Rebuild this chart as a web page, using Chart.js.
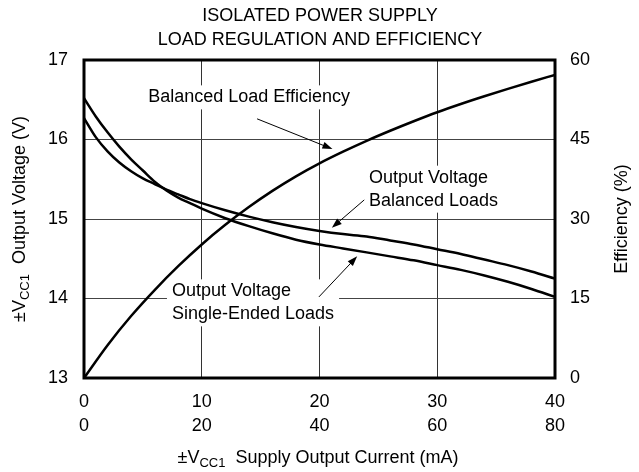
<!DOCTYPE html>
<html>
<head>
<meta charset="utf-8">
<script src="https://cdn.jsdelivr.net/npm/chart.js@4.4.0/dist/chart.umd.min.js"></script>
<style>
  html, body { margin: 0; padding: 0; background: #fff; }
</style>
</head>
<body>
<canvas id="chart" width="639" height="472"></canvas>
<script>
// supply output current (mA) where the voltage curves were read
const current = [0, 1, 2, 3, 4, 5, 6, 7, 8, 9, 10, 12, 14, 16, 18, 20, 22, 24, 26, 28, 30, 32, 34, 36, 38, 40];
const voltBalanced = [16.27, 16.03, 15.85, 15.71, 15.60, 15.51, 15.44, 15.37, 15.31, 15.25, 15.20, 15.11, 15.03, 14.96, 14.90, 14.85, 14.81, 14.78, 14.73, 14.68, 14.62, 14.56, 14.49, 14.42, 14.34, 14.25];
const voltSingle = [16.52, 16.29, 16.09, 15.91, 15.75, 15.61, 15.47, 15.36, 15.27, 15.20, 15.13, 15.01, 14.91, 14.82, 14.74, 14.68, 14.63, 14.58, 14.53, 14.48, 14.42, 14.36, 14.29, 14.21, 14.12, 14.02];

// balanced load efficiency (%)
const effCurrent = [0, 2, 4, 6, 8, 10, 12, 14, 16, 18, 20, 22, 24, 26, 28, 30, 32, 34, 36, 38, 40];
const efficiency = [0, 6.2, 11.7, 16.6, 21.1, 25.2, 28.9, 32.25, 35.3, 38.05, 40.5, 42.7, 44.75, 46.65, 48.45, 50.15, 51.7, 53.15, 54.55, 55.9, 57.2];

// axis ticks
const xTicks = [0, 10, 20, 30, 40];
const xTicks2 = [0, 20, 40, 60, 80];
const voltTicks = [13, 14, 15, 16, 17];
const effTicks = [0, 15, 30, 45, 60];

const titleLines = ['ISOLATED POWER SUPPLY', 'LOAD REGULATION AND EFFICIENCY'];

// callouts, anchored in data units (mA, V)
const notes = [
  { lines: ['Balanced Load Efficiency'], x: 5.45, y: 16.53, from: [14.7, 16.26], to: [21.1, 15.88] },
  { lines: ['Output Voltage', 'Balanced Loads'], x: 24.2, y: 15.52, from: [23.8, 15.24], to: [21.05, 14.89] },
  { lines: ['Output Voltage', 'Single-Ended Loads'], x: 7.47, y: 14.09, from: [19.95, 14.02], to: [23.2, 14.53] }
];

const FONT = '"Liberation Sans", Arial, Helvetica, sans-serif';
const SIZE = 18;
const pts = (xs, ys) => xs.map((x, i) => ({ x, y: ys[i] }));

function arrow(ctx, x0, y0, x1, y1) {
  const a = Math.atan2(y1 - y0, x1 - x0);
  const len = 10, w = 3.5;
  ctx.beginPath();
  ctx.moveTo(x0, y0);
  ctx.lineTo(x1 - Math.cos(a) * len * 0.8, y1 - Math.sin(a) * len * 0.8);
  ctx.lineWidth = 1;
  ctx.strokeStyle = '#000';
  ctx.stroke();
  ctx.beginPath();
  ctx.moveTo(x1, y1);
  ctx.lineTo(x1 - Math.cos(a) * len - Math.sin(a) * w, y1 - Math.sin(a) * len + Math.cos(a) * w);
  ctx.lineTo(x1 - Math.cos(a) * len + Math.sin(a) * w, y1 - Math.sin(a) * len - Math.cos(a) * w);
  ctx.closePath();
  ctx.fillStyle = '#000';
  ctx.fill();
}

// text with a subscript part: [[text, isSub], ...]
function drawRich(ctx, parts, cx, cy) {
  const big = SIZE + 'px ' + FONT, small = '13px ' + FONT;
  let total = 0;
  parts.forEach(p => { ctx.font = p[1] ? small : big; total += ctx.measureText(p[0]).width; });
  let x = cx - total / 2;
  ctx.textAlign = 'left';
  ctx.textBaseline = 'middle';
  parts.forEach(p => {
    ctx.font = p[1] ? small : big;
    ctx.fillText(p[0], x, p[1] ? cy + 5 : cy);
    x += ctx.measureText(p[0]).width;
  });
}

const decor = {
  id: 'decor',
  beforeDatasetsDraw(chart) {
    const { ctx, scales } = chart;
    const sx = scales.x, sy = scales.y;
    ctx.save();
    ctx.font = SIZE + 'px ' + FONT;
    notes.forEach(n => {
      const left = sx.getPixelForValue(n.x);
      const top = sy.getPixelForValue(n.y);
      const w = Math.max(...n.lines.map(l => ctx.measureText(l).width));
      ctx.fillStyle = '#fff';
      ctx.fillRect(left - 5, top - 12, w + 10, 24 + (n.lines.length - 1) * 23);
      ctx.fillStyle = '#000';
      ctx.textAlign = 'left';
      ctx.textBaseline = 'middle';
      n.lines.forEach((l, i) => ctx.fillText(l, left, top + i * 23));
      arrow(ctx, sx.getPixelForValue(n.from[0]), sy.getPixelForValue(n.from[1]),
        sx.getPixelForValue(n.to[0]), sy.getPixelForValue(n.to[1]));
    });
    ctx.restore();
  },
  afterDatasetsDraw(chart) {
    const { ctx, chartArea: a } = chart;
    ctx.save();
    ctx.lineWidth = 3;
    ctx.strokeStyle = '#000';
    ctx.strokeRect(a.left, a.top, a.right - a.left, a.bottom - a.top);
    ctx.restore();
  },
  afterDraw(chart) {
    const { ctx, chartArea: a } = chart;
    const midY = (a.top + a.bottom) / 2;
    ctx.save();
    ctx.fillStyle = '#000';
    ctx.font = SIZE + 'px ' + FONT;
    ctx.textAlign = 'center';
    ctx.textBaseline = 'middle';
    titleLines.forEach((t, i) => ctx.fillText(t, 320, 16.5 + i * 23.5));
    drawRich(ctx, [['±V', false], ['CC1', true], ['  Supply Output Current (mA)', false]], 318, 458);
    ctx.translate(20, midY);
    ctx.rotate(-Math.PI / 2);
    drawRich(ctx, [['±V', false], ['CC1', true], ['  Output Voltage (V)', false]], 0, 0);
    ctx.restore();
    ctx.save();
    ctx.translate(622, midY);
    ctx.rotate(-Math.PI / 2);
    ctx.font = SIZE + 'px ' + FONT;
    ctx.fillStyle = '#000';
    ctx.textAlign = 'center';
    ctx.textBaseline = 'middle';
    ctx.fillText('Efficiency (%)', 0, 0);
    ctx.restore();
  }
};

const line = {
  borderColor: '#000',
  borderWidth: 2.5,
  pointRadius: 0,
  fill: false,
  cubicInterpolationMode: 'monotone'
};

const tickFont = { family: FONT, size: SIZE, lineHeight: 1.33 };

new Chart(document.getElementById('chart'), {
  type: 'line',
  data: {
    datasets: [
      { ...line, label: 'Output Voltage Balanced Loads', data: pts(current, voltBalanced), yAxisID: 'y' },
      { ...line, label: 'Output Voltage Single-Ended Loads', data: pts(current, voltSingle), yAxisID: 'y' },
      { ...line, label: 'Balanced Load Efficiency', data: pts(effCurrent, efficiency), yAxisID: 'y1' }
    ]
  },
  options: {
    responsive: false,
    animation: false,
    devicePixelRatio: 1,
    layout: { padding: { top: 60, left: 0, right: 0, bottom: 0 } },
    plugins: { legend: { display: false }, tooltip: { enabled: false } },
    scales: {
      x: {
        type: 'linear',
        min: xTicks[0],
        max: xTicks[xTicks.length - 1],
        afterFit: s => { s.height = 94; },
        afterBuildTicks: s => { s.ticks = xTicks.map(v => ({ value: v })); },
        ticks: {
          color: '#000', font: tickFont, padding: 12, maxRotation: 0,
          callback: (v) => [String(v), String(xTicks2[xTicks.indexOf(v)])]
        },
        grid: { color: '#333', lineWidth: 1, drawTicks: false },
        border: { display: false }
      },
      y: {
        position: 'left',
        min: voltTicks[0],
        max: voltTicks[voltTicks.length - 1],
        afterFit: s => { s.width = 84; },
        afterBuildTicks: s => { s.ticks = voltTicks.map(v => ({ value: v })); },
        ticks: { color: '#000', font: tickFont, padding: 16 },
        grid: { color: '#444', lineWidth: 1, drawTicks: false },
        border: { display: false }
      },
      y1: {
        position: 'right',
        min: effTicks[0],
        max: effTicks[effTicks.length - 1],
        afterFit: s => { s.width = 84; },
        afterBuildTicks: s => { s.ticks = effTicks.map(v => ({ value: v })); },
        ticks: { color: '#000', font: tickFont, padding: 15 },
        grid: { display: false, drawTicks: false },
        border: { display: false }
      }
    }
  },
  plugins: [decor]
});
</script>
</body>
</html>
